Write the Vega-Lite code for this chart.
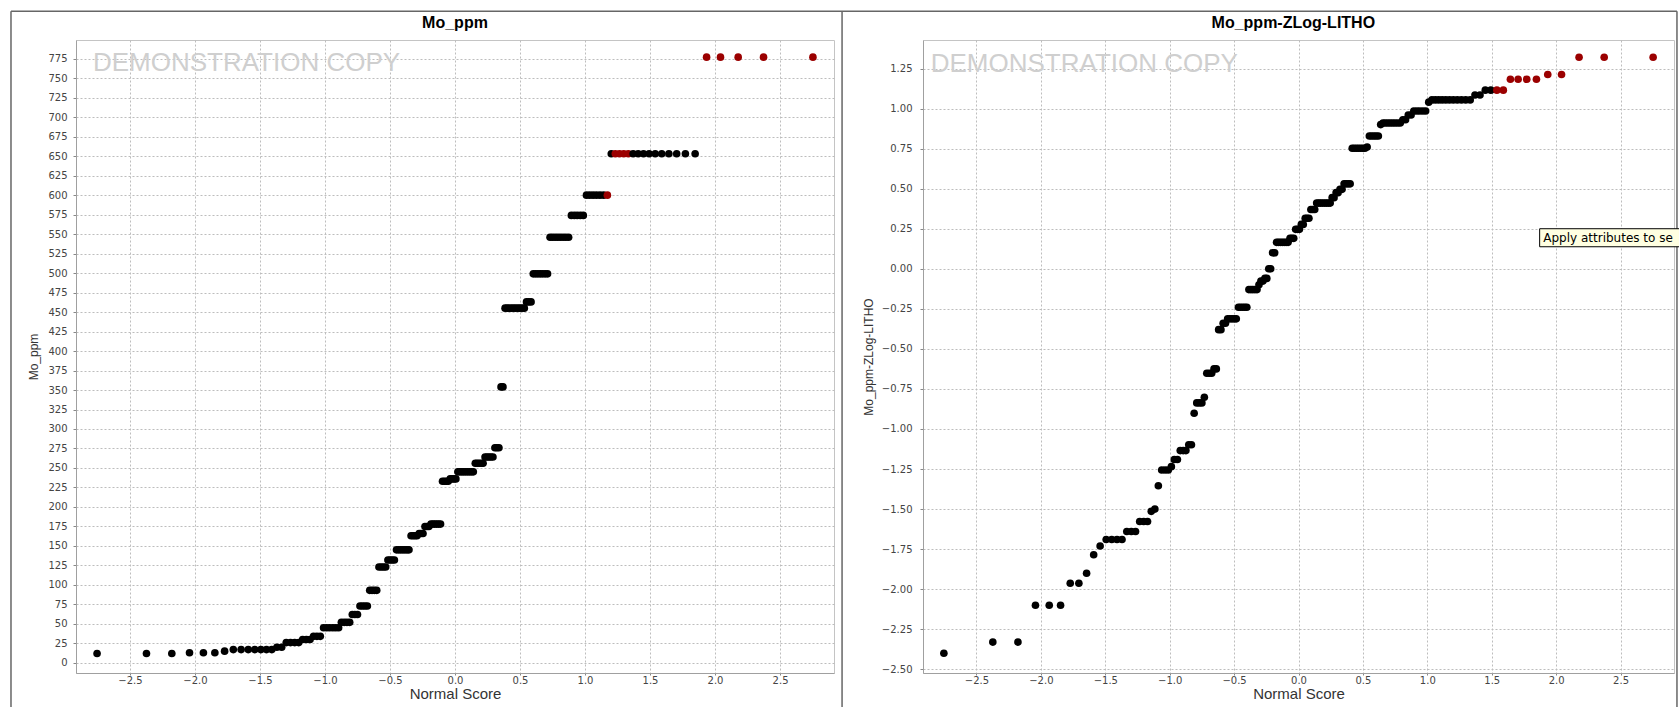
{
  "$schema": "https://vega.github.io/schema/vega-lite/v6.json",
  "background": "white",
  "padding": {"left": 9, "top": 9, "right": 0, "bottom": 0},
  "autosize": {"type": "pad"},
  "bounds": "flush",
  "spacing": 89,
  "config": {
    "font": "Liberation Sans",
    "view": {"stroke": "#c4c4c4", "strokeWidth": 1},
    "axis": {
      "labelFont": "DejaVu Sans", "labelFontSize": 10, "labelColor": "#444444", "labelOverlap": false,
      "titleFont": "Liberation Sans", "titleFontSize": 13, "titleFontWeight": "normal", "titleColor": "#333333",
      "tickSize": 3, "tickColor": "#888888", "domainColor": "#a0a0a0",
      "gridColor": "#bdbdbd", "gridDash": [2, 2], "gridWidth": 1
    }
  },
  "datasets": {
    "left": [
      {"score":-2.753,"value":12,"sel":0},{"score":-2.373,"value":12,"sel":0},{"score":-2.178,"value":12,"sel":0},{"score":-2.042,"value":13,"sel":0},{"score":-1.935,"value":13,"sel":0},{"score":-1.847,"value":13,"sel":0},{"score":-1.772,"value":15,"sel":0},{"score":-1.705,"value":17,"sel":0},{"score":-1.645,"value":17,"sel":0},{"score":-1.59,"value":17,"sel":0},
      {"score":-1.54,"value":17,"sel":0},{"score":-1.493,"value":17,"sel":0},{"score":-1.45,"value":17,"sel":0},{"score":-1.409,"value":17,"sel":0},{"score":-1.37,"value":20,"sel":0},{"score":-1.333,"value":20,"sel":0},{"score":-1.298,"value":26,"sel":0},{"score":-1.265,"value":26,"sel":0},{"score":-1.233,"value":26,"sel":0},{"score":-1.202,"value":26,"sel":0},
      {"score":-1.172,"value":30,"sel":0},{"score":-1.143,"value":30,"sel":0},{"score":-1.115,"value":30,"sel":0},{"score":-1.088,"value":34,"sel":0},{"score":-1.062,"value":34,"sel":0},{"score":-1.036,"value":34,"sel":0},{"score":-1.011,"value":45,"sel":0},{"score":-0.987,"value":45,"sel":0},{"score":-0.964,"value":45,"sel":0},{"score":-0.94,"value":45,"sel":0},
      {"score":-0.918,"value":45,"sel":0},{"score":-0.895,"value":45,"sel":0},{"score":-0.874,"value":52,"sel":0},{"score":-0.852,"value":52,"sel":0},{"score":-0.831,"value":52,"sel":0},{"score":-0.81,"value":52,"sel":0},{"score":-0.79,"value":62,"sel":0},{"score":-0.77,"value":62,"sel":0},{"score":-0.75,"value":62,"sel":0},{"score":-0.731,"value":73,"sel":0},
      {"score":-0.712,"value":73,"sel":0},{"score":-0.693,"value":73,"sel":0},{"score":-0.674,"value":73,"sel":0},{"score":-0.656,"value":93,"sel":0},{"score":-0.638,"value":93,"sel":0},{"score":-0.62,"value":93,"sel":0},{"score":-0.602,"value":93,"sel":0},{"score":-0.585,"value":123,"sel":0},{"score":-0.567,"value":123,"sel":0},{"score":-0.55,"value":123,"sel":0},
      {"score":-0.533,"value":123,"sel":0},{"score":-0.516,"value":132,"sel":0},{"score":-0.499,"value":132,"sel":0},{"score":-0.483,"value":132,"sel":0},{"score":-0.466,"value":132,"sel":0},{"score":-0.45,"value":145,"sel":0},{"score":-0.433,"value":145,"sel":0},{"score":-0.417,"value":145,"sel":0},{"score":-0.401,"value":145,"sel":0},{"score":-0.385,"value":145,"sel":0},
      {"score":-0.369,"value":145,"sel":0},{"score":-0.354,"value":145,"sel":0},{"score":-0.338,"value":163,"sel":0},{"score":-0.322,"value":163,"sel":0},{"score":-0.307,"value":163,"sel":0},{"score":-0.292,"value":163,"sel":0},{"score":-0.276,"value":166,"sel":0},{"score":-0.261,"value":166,"sel":0},{"score":-0.246,"value":166,"sel":0},{"score":-0.231,"value":175,"sel":0},
      {"score":-0.216,"value":175,"sel":0},{"score":-0.201,"value":175,"sel":0},{"score":-0.185,"value":178,"sel":0},{"score":-0.17,"value":178,"sel":0},{"score":-0.156,"value":178,"sel":0},{"score":-0.141,"value":178,"sel":0},{"score":-0.126,"value":178,"sel":0},{"score":-0.111,"value":178,"sel":0},{"score":-0.096,"value":233,"sel":0},{"score":-0.081,"value":233,"sel":0},
      {"score":-0.066,"value":233,"sel":0},{"score":-0.052,"value":233,"sel":0},{"score":-0.037,"value":236,"sel":0},{"score":-0.022,"value":236,"sel":0},{"score":-0.007,"value":236,"sel":0},{"score":0.007,"value":236,"sel":0},{"score":0.022,"value":245,"sel":0},{"score":0.037,"value":245,"sel":0},{"score":0.052,"value":245,"sel":0},{"score":0.066,"value":245,"sel":0},
      {"score":0.081,"value":245,"sel":0},{"score":0.096,"value":245,"sel":0},{"score":0.111,"value":245,"sel":0},{"score":0.126,"value":245,"sel":0},{"score":0.141,"value":245,"sel":0},{"score":0.156,"value":256,"sel":0},{"score":0.17,"value":256,"sel":0},{"score":0.185,"value":256,"sel":0},{"score":0.201,"value":256,"sel":0},{"score":0.216,"value":256,"sel":0},
      {"score":0.231,"value":264,"sel":0},{"score":0.246,"value":264,"sel":0},{"score":0.261,"value":264,"sel":0},{"score":0.276,"value":264,"sel":0},{"score":0.292,"value":264,"sel":0},{"score":0.307,"value":276,"sel":0},{"score":0.322,"value":276,"sel":0},{"score":0.338,"value":276,"sel":0},{"score":0.354,"value":354,"sel":0},{"score":0.369,"value":354,"sel":0},
      {"score":0.385,"value":455,"sel":0},{"score":0.401,"value":455,"sel":0},{"score":0.417,"value":455,"sel":0},{"score":0.433,"value":455,"sel":0},{"score":0.45,"value":455,"sel":0},{"score":0.466,"value":455,"sel":0},{"score":0.483,"value":455,"sel":0},{"score":0.499,"value":455,"sel":0},{"score":0.516,"value":455,"sel":0},{"score":0.533,"value":455,"sel":0},
      {"score":0.55,"value":463,"sel":0},{"score":0.567,"value":463,"sel":0},{"score":0.585,"value":463,"sel":0},{"score":0.602,"value":499,"sel":0},{"score":0.62,"value":499,"sel":0},{"score":0.638,"value":499,"sel":0},{"score":0.656,"value":499,"sel":0},{"score":0.674,"value":499,"sel":0},{"score":0.693,"value":499,"sel":0},{"score":0.712,"value":499,"sel":0},
      {"score":0.731,"value":546,"sel":0},{"score":0.75,"value":546,"sel":0},{"score":0.77,"value":546,"sel":0},{"score":0.79,"value":546,"sel":0},{"score":0.81,"value":546,"sel":0},{"score":0.831,"value":546,"sel":0},{"score":0.852,"value":546,"sel":0},{"score":0.874,"value":546,"sel":0},{"score":0.895,"value":574,"sel":0},{"score":0.918,"value":574,"sel":0},
      {"score":0.94,"value":574,"sel":0},{"score":0.964,"value":574,"sel":0},{"score":0.987,"value":574,"sel":0},{"score":1.011,"value":600,"sel":0},{"score":1.036,"value":600,"sel":0},{"score":1.062,"value":600,"sel":0},{"score":1.088,"value":600,"sel":0},{"score":1.115,"value":600,"sel":0},{"score":1.143,"value":600,"sel":0},{"score":1.172,"value":600,"sel":1},
      {"score":1.202,"value":653,"sel":0},{"score":1.233,"value":653,"sel":1},{"score":1.265,"value":653,"sel":1},{"score":1.298,"value":653,"sel":1},{"score":1.333,"value":653,"sel":1},{"score":1.37,"value":653,"sel":0},{"score":1.409,"value":653,"sel":0},{"score":1.45,"value":653,"sel":0},{"score":1.493,"value":653,"sel":0},{"score":1.54,"value":653,"sel":0},
      {"score":1.59,"value":653,"sel":0},{"score":1.645,"value":653,"sel":0},{"score":1.705,"value":653,"sel":0},{"score":1.772,"value":653,"sel":0},{"score":1.847,"value":653,"sel":0},{"score":1.935,"value":777,"sel":1},{"score":2.042,"value":777,"sel":1},{"score":2.178,"value":777,"sel":1},{"score":2.373,"value":777,"sel":1},{"score":2.753,"value":777,"sel":1}
    ],
    "right": [
      {"score":-2.753,"value":-2.4,"sel":0},{"score":-2.373,"value":-2.33,"sel":0},{"score":-2.178,"value":-2.33,"sel":0},{"score":-2.042,"value":-2.1,"sel":0},{"score":-1.935,"value":-2.1,"sel":0},{"score":-1.847,"value":-2.1,"sel":0},{"score":-1.772,"value":-1.963,"sel":0},{"score":-1.705,"value":-1.963,"sel":0},{"score":-1.645,"value":-1.9,"sel":0},{"score":-1.59,"value":-1.785,"sel":0},
      {"score":-1.54,"value":-1.73,"sel":0},{"score":-1.493,"value":-1.69,"sel":0},{"score":-1.45,"value":-1.69,"sel":0},{"score":-1.409,"value":-1.69,"sel":0},{"score":-1.37,"value":-1.69,"sel":0},{"score":-1.333,"value":-1.64,"sel":0},{"score":-1.298,"value":-1.64,"sel":0},{"score":-1.265,"value":-1.64,"sel":0},{"score":-1.233,"value":-1.577,"sel":0},{"score":-1.202,"value":-1.577,"sel":0},
      {"score":-1.172,"value":-1.577,"sel":0},{"score":-1.143,"value":-1.514,"sel":0},{"score":-1.115,"value":-1.5,"sel":0},{"score":-1.088,"value":-1.354,"sel":0},{"score":-1.062,"value":-1.256,"sel":0},{"score":-1.036,"value":-1.256,"sel":0},{"score":-1.011,"value":-1.256,"sel":0},{"score":-0.987,"value":-1.235,"sel":0},{"score":-0.964,"value":-1.19,"sel":0},{"score":-0.94,"value":-1.19,"sel":0},
      {"score":-0.918,"value":-1.135,"sel":0},{"score":-0.895,"value":-1.135,"sel":0},{"score":-0.874,"value":-1.135,"sel":0},{"score":-0.852,"value":-1.098,"sel":0},{"score":-0.831,"value":-1.098,"sel":0},{"score":-0.81,"value":-0.902,"sel":0},{"score":-0.79,"value":-0.837,"sel":0},{"score":-0.77,"value":-0.837,"sel":0},{"score":-0.75,"value":-0.837,"sel":0},{"score":-0.731,"value":-0.802,"sel":0},
      {"score":-0.712,"value":-0.652,"sel":0},{"score":-0.693,"value":-0.652,"sel":0},{"score":-0.674,"value":-0.652,"sel":0},{"score":-0.656,"value":-0.625,"sel":0},{"score":-0.638,"value":-0.625,"sel":0},{"score":-0.62,"value":-0.38,"sel":0},{"score":-0.602,"value":-0.38,"sel":0},{"score":-0.585,"value":-0.34,"sel":0},{"score":-0.567,"value":-0.34,"sel":0},{"score":-0.55,"value":-0.3125,"sel":0},
      {"score":-0.533,"value":-0.3125,"sel":0},{"score":-0.516,"value":-0.3125,"sel":0},{"score":-0.499,"value":-0.3125,"sel":0},{"score":-0.483,"value":-0.3125,"sel":0},{"score":-0.466,"value":-0.24,"sel":0},{"score":-0.45,"value":-0.24,"sel":0},{"score":-0.433,"value":-0.24,"sel":0},{"score":-0.417,"value":-0.24,"sel":0},{"score":-0.401,"value":-0.24,"sel":0},{"score":-0.385,"value":-0.13,"sel":0},
      {"score":-0.369,"value":-0.13,"sel":0},{"score":-0.354,"value":-0.13,"sel":0},{"score":-0.338,"value":-0.13,"sel":0},{"score":-0.322,"value":-0.13,"sel":0},{"score":-0.307,"value":-0.1,"sel":0},{"score":-0.292,"value":-0.077,"sel":0},{"score":-0.276,"value":-0.077,"sel":0},{"score":-0.261,"value":-0.06,"sel":0},{"score":-0.246,"value":-0.06,"sel":0},{"score":-0.231,"value":0.0,"sel":0},
      {"score":-0.216,"value":0.0,"sel":0},{"score":-0.201,"value":0.1,"sel":0},{"score":-0.185,"value":0.1,"sel":0},{"score":-0.17,"value":0.165,"sel":0},{"score":-0.156,"value":0.165,"sel":0},{"score":-0.141,"value":0.165,"sel":0},{"score":-0.126,"value":0.165,"sel":0},{"score":-0.111,"value":0.165,"sel":0},{"score":-0.096,"value":0.165,"sel":0},{"score":-0.081,"value":0.165,"sel":0},
      {"score":-0.066,"value":0.19,"sel":0},{"score":-0.052,"value":0.19,"sel":0},{"score":-0.037,"value":0.19,"sel":0},{"score":-0.022,"value":0.246,"sel":0},{"score":-0.007,"value":0.246,"sel":0},{"score":0.007,"value":0.246,"sel":0},{"score":0.022,"value":0.277,"sel":0},{"score":0.037,"value":0.277,"sel":0},{"score":0.052,"value":0.315,"sel":0},{"score":0.066,"value":0.315,"sel":0},
      {"score":0.081,"value":0.315,"sel":0},{"score":0.096,"value":0.37,"sel":0},{"score":0.111,"value":0.37,"sel":0},{"score":0.126,"value":0.37,"sel":0},{"score":0.141,"value":0.41,"sel":0},{"score":0.156,"value":0.41,"sel":0},{"score":0.17,"value":0.41,"sel":0},{"score":0.185,"value":0.41,"sel":0},{"score":0.201,"value":0.41,"sel":0},{"score":0.216,"value":0.41,"sel":0},
      {"score":0.231,"value":0.41,"sel":0},{"score":0.246,"value":0.41,"sel":0},{"score":0.261,"value":0.444,"sel":0},{"score":0.276,"value":0.444,"sel":0},{"score":0.292,"value":0.475,"sel":0},{"score":0.307,"value":0.475,"sel":0},{"score":0.322,"value":0.496,"sel":0},{"score":0.338,"value":0.496,"sel":0},{"score":0.354,"value":0.53,"sel":0},{"score":0.369,"value":0.53,"sel":0},
      {"score":0.385,"value":0.53,"sel":0},{"score":0.401,"value":0.53,"sel":0},{"score":0.417,"value":0.752,"sel":0},{"score":0.433,"value":0.752,"sel":0},{"score":0.45,"value":0.752,"sel":0},{"score":0.466,"value":0.752,"sel":0},{"score":0.483,"value":0.752,"sel":0},{"score":0.499,"value":0.752,"sel":0},{"score":0.516,"value":0.752,"sel":0},{"score":0.533,"value":0.76,"sel":0},
      {"score":0.55,"value":0.829,"sel":0},{"score":0.567,"value":0.829,"sel":0},{"score":0.585,"value":0.829,"sel":0},{"score":0.602,"value":0.829,"sel":0},{"score":0.62,"value":0.829,"sel":0},{"score":0.638,"value":0.9,"sel":0},{"score":0.656,"value":0.91,"sel":0},{"score":0.674,"value":0.91,"sel":0},{"score":0.693,"value":0.91,"sel":0},{"score":0.712,"value":0.91,"sel":0},
      {"score":0.731,"value":0.91,"sel":0},{"score":0.75,"value":0.91,"sel":0},{"score":0.77,"value":0.91,"sel":0},{"score":0.79,"value":0.91,"sel":0},{"score":0.81,"value":0.93,"sel":0},{"score":0.831,"value":0.93,"sel":0},{"score":0.852,"value":0.96,"sel":0},{"score":0.874,"value":0.96,"sel":0},{"score":0.895,"value":0.985,"sel":0},{"score":0.918,"value":0.985,"sel":0},
      {"score":0.94,"value":0.985,"sel":0},{"score":0.964,"value":0.985,"sel":0},{"score":0.987,"value":0.985,"sel":0},{"score":1.011,"value":1.04,"sel":0},{"score":1.036,"value":1.054,"sel":0},{"score":1.062,"value":1.054,"sel":0},{"score":1.088,"value":1.054,"sel":0},{"score":1.115,"value":1.054,"sel":0},{"score":1.143,"value":1.054,"sel":0},{"score":1.172,"value":1.054,"sel":0},
      {"score":1.202,"value":1.054,"sel":0},{"score":1.233,"value":1.054,"sel":0},{"score":1.265,"value":1.054,"sel":0},{"score":1.298,"value":1.054,"sel":0},{"score":1.333,"value":1.054,"sel":0},{"score":1.37,"value":1.085,"sel":0},{"score":1.409,"value":1.085,"sel":0},{"score":1.45,"value":1.115,"sel":0},{"score":1.493,"value":1.115,"sel":0},{"score":1.54,"value":1.115,"sel":1},
      {"score":1.59,"value":1.115,"sel":1},{"score":1.645,"value":1.183,"sel":1},{"score":1.705,"value":1.183,"sel":1},{"score":1.772,"value":1.183,"sel":1},{"score":1.847,"value":1.183,"sel":1},{"score":1.935,"value":1.2125,"sel":1},{"score":2.042,"value":1.2125,"sel":1},{"score":2.178,"value":1.32,"sel":1},{"score":2.373,"value":1.32,"sel":1},{"score":2.753,"value":1.32,"sel":1}
    ]
  },
  "hconcat": [
    {
      "width": 758,
      "height": 633,
      "layer": [
        {
          "data": {"name": "left"},
          "mark": {"type": "point", "filled": true, "shape": "circle", "size": 58, "opacity": 1},
          "encoding": {
            "x": {"field": "score", "type": "quantitative",
                  "scale": {"domain": [-2.915, 2.915], "nice": false, "zero": false},
                  "axis": {"title": "Normal Score", "titleFontSize": 15, "values": [-2.5, -2, -1.5, -1, -0.5, 0, 0.5, 1, 1.5, 2, 2.5], "format": ".1f", "tickSize": 2, "labelPadding": 0, "titlePadding": 1}},
            "y": {"field": "value", "type": "quantitative",
                  "scale": {"domain": [-13, 799], "nice": false, "zero": false},
                  "axis": {"title": "Mo_ppm", "titleFontSize": 12, "labelOverlap": false, "values": [0,25,50,75,100,125,150,175,200,225,250,275,300,325,350,375,400,425,450,475,500,525,550,575,600,625,650,675,700,725,750,775], "format": "d", "labelPadding": 6, "titlePadding": 7}},
            "color": {"field": "sel", "type": "nominal", "scale": {"domain": [0, 1], "range": ["#000000", "#9b0000"]}, "legend": null}
          }
        },
        {
          "data": {"values": [{"label": "DEMONSTRATION COPY"}]},
          "mark": {"type": "text", "align": "left", "baseline": "middle", "font": "Liberation Sans", "fontSize": 26, "color": "#cfcfcf"},
          "encoding": {
            "text": {"field": "label", "type": "nominal"},
            "x": {"datum": -2.785, "type": "quantitative",
                  "axis": {"title": "Normal Score", "titleFontSize": 15, "values": [-2.5, -2, -1.5, -1, -0.5, 0, 0.5, 1, 1.5, 2, 2.5], "format": ".1f", "tickSize": 2, "labelPadding": 0, "titlePadding": 1}},
            "y": {"datum": 770, "type": "quantitative",
                  "axis": {"title": "Mo_ppm", "titleFontSize": 12, "labelOverlap": false, "values": [0,25,50,75,100,125,150,175,200,225,250,275,300,325,350,375,400,425,450,475,500,525,550,575,600,625,650,675,700,725,750,775], "format": "d", "labelPadding": 6, "titlePadding": 7}}
          }
        },
        {
          "data": {"values": [{"label": "Mo_ppm"}]},
          "mark": {"type": "text", "align": "center", "baseline": "middle", "font": "Liberation Sans", "fontSize": 16, "fontWeight": "bold", "color": "#000000"},
          "encoding": {
            "text": {"field": "label", "type": "nominal"},
            "x": {"datum": 0, "type": "quantitative",
                  "axis": {"title": "Normal Score", "titleFontSize": 15, "values": [-2.5, -2, -1.5, -1, -0.5, 0, 0.5, 1, 1.5, 2, 2.5], "format": ".1f", "tickSize": 2, "labelPadding": 0, "titlePadding": 1}},
            "y": {"datum": 821, "type": "quantitative",
                  "axis": {"title": "Mo_ppm", "titleFontSize": 12, "labelOverlap": false, "values": [0,25,50,75,100,125,150,175,200,225,250,275,300,325,350,375,400,425,450,475,500,525,550,575,600,625,650,675,700,725,750,775], "format": "d", "labelPadding": 6, "titlePadding": 7}}
          }
        },
        {
          "data": {"values": [{"edge": "left"}]},
          "mark": {"type": "rule", "color": "#666666", "strokeWidth": 1.5},
          "encoding": {
            "x": {"datum": -3.415, "type": "quantitative",
                  "axis": {"title": "Normal Score", "titleFontSize": 15, "values": [-2.5, -2, -1.5, -1, -0.5, 0, 0.5, 1, 1.5, 2, 2.5], "format": ".1f", "tickSize": 2, "labelPadding": 0, "titlePadding": 1}},
            "y": {"datum": 836, "type": "quantitative",
                  "axis": {"title": "Mo_ppm", "titleFontSize": 12, "labelOverlap": false, "values": [0,25,50,75,100,125,150,175,200,225,250,275,300,325,350,375,400,425,450,475,500,525,550,575,600,625,650,675,700,725,750,775], "format": "d", "labelPadding": 6, "titlePadding": 7}},
            "y2": {"datum": -57}
          }
        },
        {
          "data": {"values": [{"edge": "separator"}]},
          "mark": {"type": "rule", "color": "#666666", "strokeWidth": 1.5},
          "encoding": {
            "x": {"datum": 2.977, "type": "quantitative",
                  "axis": {"title": "Normal Score", "titleFontSize": 15, "values": [-2.5, -2, -1.5, -1, -0.5, 0, 0.5, 1, 1.5, 2, 2.5], "format": ".1f", "tickSize": 2, "labelPadding": 0, "titlePadding": 1}},
            "y": {"datum": 836, "type": "quantitative",
                  "axis": {"title": "Mo_ppm", "titleFontSize": 12, "labelOverlap": false, "values": [0,25,50,75,100,125,150,175,200,225,250,275,300,325,350,375,400,425,450,475,500,525,550,575,600,625,650,675,700,725,750,775], "format": "d", "labelPadding": 6, "titlePadding": 7}},
            "y2": {"datum": -57}
          }
        },
        {
          "data": {"values": [{"edge": "top"}]},
          "mark": {"type": "rule", "color": "#666666", "strokeWidth": 1.5},
          "encoding": {
            "x": {"datum": -3.415, "type": "quantitative",
                  "axis": {"title": "Normal Score", "titleFontSize": 15, "values": [-2.5, -2, -1.5, -1, -0.5, 0, 0.5, 1, 1.5, 2, 2.5], "format": ".1f", "tickSize": 2, "labelPadding": 0, "titlePadding": 1}},
            "x2": {"datum": 2.977},
            "y": {"datum": 836, "type": "quantitative",
                  "axis": {"title": "Mo_ppm", "titleFontSize": 12, "labelOverlap": false, "values": [0,25,50,75,100,125,150,175,200,225,250,275,300,325,350,375,400,425,450,475,500,525,550,575,600,625,650,675,700,725,750,775], "format": "d", "labelPadding": 6, "titlePadding": 7}}
          }
        }
      ]
    },
    {
      "width": 751,
      "height": 633,
      "layer": [
        {
          "data": {"name": "right"},
          "mark": {"type": "point", "filled": true, "shape": "circle", "size": 58, "opacity": 1},
          "encoding": {
            "x": {"field": "score", "type": "quantitative",
                  "scale": {"domain": [-2.915, 2.915], "nice": false, "zero": false},
                  "axis": {"title": "Normal Score", "titleFontSize": 15, "values": [-2.5, -2, -1.5, -1, -0.5, 0, 0.5, 1, 1.5, 2, 2.5], "format": ".1f", "tickSize": 2, "labelPadding": 0, "titlePadding": 1}},
            "y": {"field": "value", "type": "quantitative",
                  "scale": {"domain": [-2.523, 1.428], "nice": false, "zero": false},
                  "axis": {"title": "Mo_ppm-ZLog-LITHO", "titleFontSize": 12, "labelOverlap": false, "values": [-2.5,-2.25,-2,-1.75,-1.5,-1.25,-1,-0.75,-0.5,-0.25,0,0.25,0.5,0.75,1,1.25], "format": ".2f", "labelPadding": 8, "titlePadding": 6}},
            "color": {"field": "sel", "type": "nominal", "scale": {"domain": [0, 1], "range": ["#000000", "#9b0000"]}, "legend": null}
          }
        },
        {
          "data": {"values": [{"label": "DEMONSTRATION COPY"}]},
          "mark": {"type": "text", "align": "left", "baseline": "middle", "font": "Liberation Sans", "fontSize": 26, "color": "#cfcfcf"},
          "encoding": {
            "text": {"field": "label", "type": "nominal"},
            "x": {"datum": -2.855, "type": "quantitative"},
            "y": {"datum": 1.28, "type": "quantitative"}
          }
        },
        {
          "data": {"values": [{"label": "Mo_ppm-ZLog-LITHO"}]},
          "mark": {"type": "text", "align": "center", "baseline": "middle", "font": "Liberation Sans", "fontSize": 16, "fontWeight": "bold", "color": "#000000"},
          "encoding": {
            "text": {"field": "label", "type": "nominal"},
            "x": {"datum": -0.04, "type": "quantitative"},
            "y": {"datum": 1.536, "type": "quantitative"}
          }
        },
        {
          "data": {"values": [{"edge": "right"}]},
          "mark": {"type": "rule", "color": "#666666", "strokeWidth": 1.5},
          "encoding": {
            "x": {"datum": 2.938, "type": "quantitative"},
            "y": {"datum": 1.607, "type": "quantitative"},
            "y2": {"datum": -2.93}
          }
        },
        {
          "data": {"values": [{"edge": "top"}]},
          "mark": {"type": "rule", "color": "#666666", "strokeWidth": 1.5},
          "encoding": {
            "x": {"datum": -3.544, "type": "quantitative"},
            "x2": {"datum": 2.938},
            "y": {"datum": 1.607, "type": "quantitative"}
          }
        },
        {
          "data": {"values": [{"label": "Apply attributes to se"}]},
          "mark": {"type": "rect", "fill": "#ffffe1", "stroke": "#000000", "strokeWidth": 1},
          "encoding": {
            "x": {"datum": 1.872, "type": "quantitative"},
            "x2": {"datum": 2.96},
            "y": {"datum": 0.25, "type": "quantitative"},
            "y2": {"datum": 0.1375}
          }
        },
        {
          "data": {"values": [{"label": "Apply attributes to se"}]},
          "mark": {"type": "text", "align": "left", "baseline": "middle", "font": "DejaVu Sans", "fontSize": 12, "color": "#000000", "limit": 133, "ellipsis": ""},
          "encoding": {
            "text": {"field": "label", "type": "nominal"},
            "x": {"datum": 1.9, "type": "quantitative"},
            "y": {"datum": 0.194, "type": "quantitative"}
          }
        }
      ]
    }
  ]
}
